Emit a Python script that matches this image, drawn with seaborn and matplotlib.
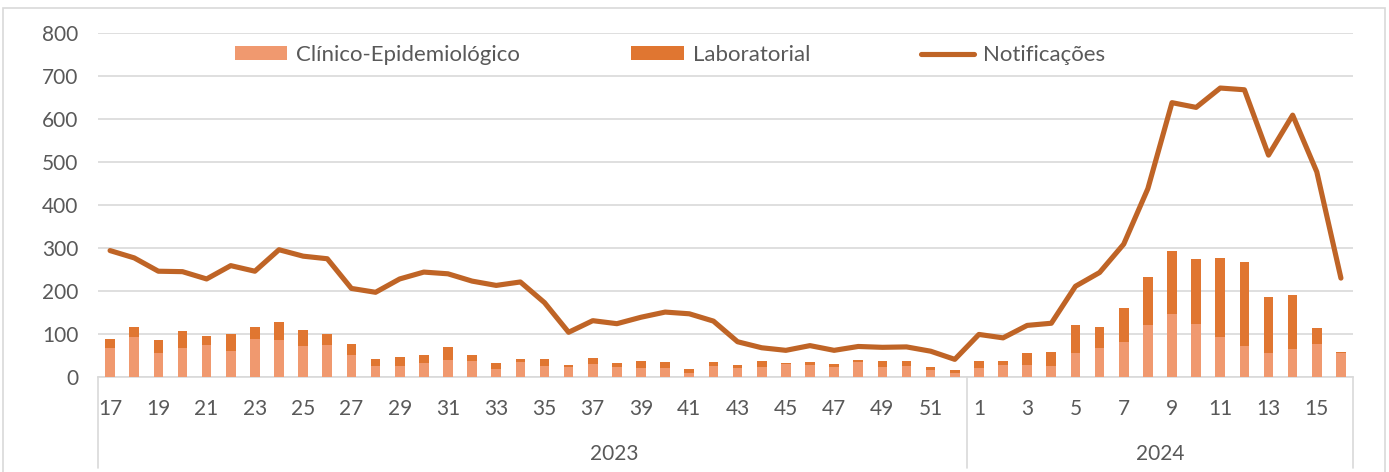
import numpy as np
import pandas as pd
import matplotlib
matplotlib.use("Agg")
import matplotlib.pyplot as plt
from matplotlib.patches import Rectangle
from matplotlib.lines import Line2D
import matplotlib.transforms as mtransforms
import seaborn as sns

# ---------------- data ----------------
weeks_2023 = list(range(17, 53))
weeks_2024 = list(range(1, 17))
years = ["2023", "2024"]

clinico = [68, 92, 55, 67, 74, 61, 88, 86, 71, 74, 51, 25, 25, 32, 40, 37, 18, 34,
           25, 23, 30, 23, 20, 20, 9, 25, 20, 23, 30, 27, 23, 34, 23, 25, 17, 9,
           20, 27, 27, 25, 56, 67, 81, 121, 146, 123, 94, 72, 55, 65, 76, 56]
laboratorial = [20, 24, 30, 40, 22, 38, 28, 41, 39, 25, 26, 16, 22, 20, 30, 15, 14, 7,
                16, 4, 14, 9, 18, 14, 10, 10, 9, 14, 2, 8, 8, 6, 15, 12, 6, 7,
                18, 10, 29, 33, 64, 50, 80, 112, 146, 152, 183, 195, 131, 125, 37, 2]
notificacoes = [294, 277, 246, 245, 228, 259, 246, 296, 281, 275, 206, 197, 228, 244, 240, 223, 213, 221,
                173, 104, 131, 124, 139, 151, 147, 130, 82, 68, 62, 73, 62, 71, 69, 70, 60, 41,
                99, 91, 120, 125, 211, 243, 309, 438, 638, 627, 672, 668, 516, 609, 477, 230]

week_labels = [str(w) for w in weeks_2023] + [str(w) for w in weeks_2024]
keys = [f"2023-{w}" for w in weeks_2023] + [f"2024-{w}" for w in weeks_2024]
yticks = [0, 100, 200, 300, 400, 500, 600, 700, 800]

df = pd.DataFrame({
    "key": keys,
    "clin": clinico,
    "lab": laboratorial,
    "notif": notificacoes,
})
df["total"] = df["clin"] + df["lab"]
df["pos"] = np.arange(len(df))

# ---------------- style ----------------
C_CLIN = "#F0996F"
C_LAB = "#E07631"
C_LINE = "#BF6426"
C_GRID = "#D9D9D9"
C_TEXT = "#595959"

sns.set_theme(style="white")
plt.rcParams["font.family"] = ["Lato", "DejaVu Sans"]

W, H = 1389, 472
fig = plt.figure(figsize=(W / 100, H / 100), dpi=100)
ax = fig.add_axes([98 / W, (H - 377) / H, (1353 - 98) / W, (377 - 33) / H])

# stacked bars: total (laboratorial on top) then clinical at the bottom
sns.barplot(data=df, x="key", y="total", color=C_LAB, width=0.4, ax=ax,
            saturation=1, linewidth=0, zorder=2)
sns.barplot(data=df, x="key", y="clin", color=C_CLIN, width=0.4, ax=ax,
            saturation=1, linewidth=0, zorder=3)
sns.lineplot(x=df["pos"], y=df["notif"], color=C_LINE, linewidth=3.7, ax=ax,
             zorder=4, solid_capstyle="round", solid_joinstyle="round")

ax.set_xlim(-0.5, len(df) - 0.5)
ax.set_ylim(0, 800)
ax.set_yticks(yticks)
ax.set_yticklabels([str(v) for v in yticks])
ax.yaxis.grid(True, color=C_GRID, linewidth=1.2, zorder=0)
ax.set_axisbelow(True)
ax.set_xlabel("")
ax.set_ylabel("")

# x tick labels every second week
tick_pos = [i for i in range(len(df)) if i % 2 == 0]
ax.set_xticks(tick_pos)
ax.set_xticklabels([week_labels[i] for i in tick_pos])
ax.tick_params(axis="x", length=0, pad=16, labelsize=15, labelcolor=C_TEXT)
ax.tick_params(axis="y", length=0, pad=14, labelsize=15, labelcolor=C_TEXT)

for s in ["top", "right", "left"]:
    ax.spines[s].set_visible(False)
ax.spines["bottom"].set_color(C_GRID)
ax.spines["bottom"].set_linewidth(1.2)

# category group separators and year labels
trans = mtransforms.blended_transform_factory(ax.transData, ax.transAxes)
n23 = len(weeks_2023)
for xb in [-0.5, n23 - 0.5, len(df) - 0.5]:
    ax.add_line(Line2D([xb, xb], [0, -0.265], transform=trans, color=C_GRID,
                       linewidth=1.2, clip_on=False))
ax.text(20.9, -0.225, years[0], transform=trans, ha="center", va="center",
        fontsize=15, color=C_TEXT)
ax.text((n23 - 0.5 + len(df) - 0.5) / 2, -0.225, years[1], transform=trans,
        ha="center", va="center", fontsize=15, color=C_TEXT)

# legend
handles = [
    Rectangle((0, 0), 1, 1, facecolor=C_CLIN, edgecolor="none"),
    Rectangle((0, 0), 1, 1, facecolor=C_LAB, edgecolor="none"),
    Line2D([0], [0], color=C_LINE, linewidth=3.7, solid_capstyle="round"),
]
leg = fig.legend(handles, ["Clínico-Epidemiológico", "Laboratorial", "Notificações"],
                 loc="center", bbox_to_anchor=(670 / W, 1 - 55 / H), ncol=3,
                 frameon=False, fontsize=16, handlelength=2.35, handleheight=0.6,
                 handletextpad=0.42, columnspacing=5.0)
for t in leg.get_texts():
    t.set_color(C_TEXT)

# outer chart border
fig.patches.append(Rectangle((3 / W, -0.05), (1385 - 3) / W, 1.05 - 8 / H,
                             transform=fig.transFigure, fill=False,
                             edgecolor=C_GRID, linewidth=1.2))

fig.savefig("out.png", dpi=100)
